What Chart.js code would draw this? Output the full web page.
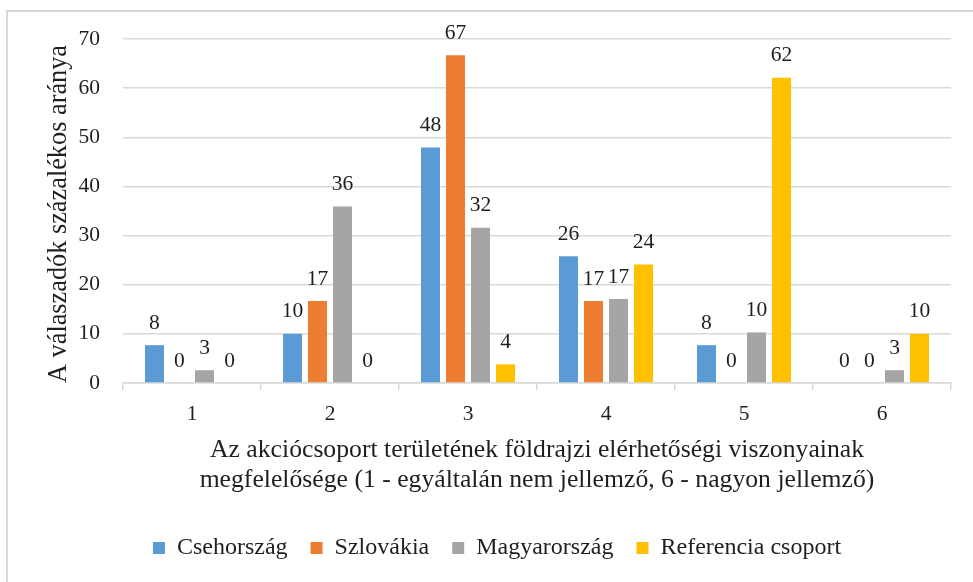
<!DOCTYPE html>
<html>
<head>
<meta charset="utf-8">
<script src="https://cdn.jsdelivr.net/npm/chart.js@4"></script>
<style>
  html, body { margin: 0; padding: 0; background: #fff; }
  #wrap { position: relative; width: 973px; height: 582px; overflow: hidden; }
  #frame { position: absolute; left: 6px; top: 10px; width: 1000px; height: 600px; border: 2px solid #d9d9d9; box-sizing: border-box; }
  #c { position: absolute; left: 0; top: 0; }
</style>
</head>
<body>
<div id="wrap">
  <div id="frame"></div>
  <canvas id="c" width="973" height="582"></canvas>
</div>
<script>
const categories = ['1', '2', '3', '4', '5', '6'];
const seriesNames = ['Csehország', 'Szlovákia', 'Magyarország', 'Referencia csoport'];
const cseh = [7.7, 10.0, 47.9, 25.8, 7.7, 0];
const szlovakia = [0, 16.7, 66.7, 16.7, 0, 0];
const magyar = [2.6, 35.9, 31.6, 17.1, 10.3, 2.6];
const referencia = [0, 0, 3.8, 24.1, 62.1, 10.0];
const colors = ['#5B9BD5', '#ED7D31', '#A5A5A5', '#FFC000'];
const yTitle = 'A válaszadók százalékos aránya';
const xTitle = ['Az akciócsoport területének földrajzi elérhetőségi viszonyainak',
                'megfelelősége (1 - egyáltalán nem jellemző, 6 - nagyon jellemző)'];

const FAMILY = "'Liberation Serif', 'Times New Roman', serif";
const TEXT = '#1f1f1f';

const dataLabels = {
  id: 'dataLabels',
  afterDatasetsDraw(chart) {
    const ctx = chart.ctx;
    ctx.save();
    ctx.font = '21.5px ' + FAMILY;
    ctx.fillStyle = TEXT;
    ctx.textAlign = 'center';
    ctx.textBaseline = 'middle';
    chart.data.datasets.forEach((ds, di) => {
      const meta = chart.getDatasetMeta(di);
      meta.data.forEach((el, i) => {
        ctx.fillText(String(Math.round(ds.data[i])), el.x, el.y - 22);
      });
    });
    ctx.restore();
  }
};

const allSeries = [cseh, szlovakia, magyar, referencia];

new Chart(document.getElementById('c'), {
  type: 'bar',
  data: {
    labels: categories,
    datasets: allSeries.map((d, i) => ({
      label: seriesNames[i],
      data: d,
      backgroundColor: colors[i],
      borderWidth: 0,
      categoryPercentage: 0.725,
      barPercentage: 0.76
    }))
  },
  options: {
    responsive: false,
    animation: false,
    layout: { padding: { top: 39, right: 0, bottom: 12, left: 21 } },
    plugins: {
      tooltip: { enabled: false },
      legend: {
        position: 'bottom',
        labels: {
          boxWidth: 12, boxHeight: 12, padding: 23,
          color: TEXT,
          font: { family: FAMILY, size: 24 }
        }
      }
    },
    scales: {
      x: {
        grid: { display: true, offset: true, drawOnChartArea: false, drawTicks: true, tickLength: 7, color: '#d9d9d9', lineWidth: 1.5 },
        border: { display: true, color: '#d9d9d9', width: 1.5 },
        ticks: { color: TEXT, font: { family: FAMILY, size: 21.5 }, padding: 11, maxRotation: 0 },
        title: { display: true, text: xTitle, color: TEXT, font: { family: FAMILY, size: 25.7, lineHeight: 1.17 }, padding: { top: 0, bottom: 18 } },
        afterFit(s) { s.height = 130; }
      },
      y: {
        min: 0, max: 70,
        grid: { color: '#d9d9d9', lineWidth: 1.5, drawTicks: false },
        border: { display: false },
        ticks: { stepSize: 10, color: TEXT, font: { family: FAMILY, size: 21.5 }, padding: 23 },
        title: { display: true, text: yTitle, align: 'start', color: TEXT, font: { family: FAMILY, size: 26.3, lineHeight: 1.2 }, padding: { top: 22.4, bottom: 0 } },
        afterFit(s) { s.width = 102; }
      },
      yRight: {
        position: 'right',
        display: true,
        min: 0, max: 70,
        grid: { display: false, drawOnChartArea: false },
        border: { display: false },
        ticks: { display: false },
        afterFit(s) { s.width = 22; }
      }
    }
  },
  plugins: [dataLabels]
});
</script>
</body>
</html>
